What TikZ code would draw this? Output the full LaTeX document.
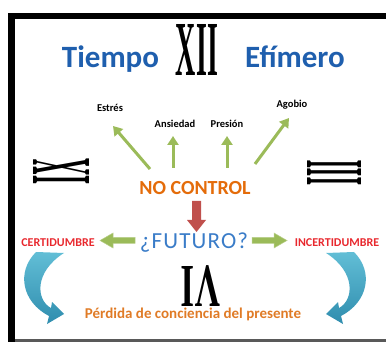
\documentclass[tikz,border=0pt]{standalone}
\usepackage{fontspec}
\setmainfont{Carlito}
\newfontfamily\numfont{Liberation Serif}
\newfontfamily\futfont[LetterSpace=5]{Carlito}
\usetikzlibrary{arrows.meta}
\definecolor{tblue}{HTML}{1F5FAE}
\definecolor{fblue}{HTML}{3A7CC8}
\definecolor{lgreen}{HTML}{9BBB59}
\definecolor{ncorange}{HTML}{E46C0A}
\definecolor{porange}{HTML}{E07B26}
\definecolor{darrow}{HTML}{C0504D}
\definecolor{cred}{HTML}{E8282E}
\definecolor{cyanA}{HTML}{62BED6}
\definecolor{cyanB}{HTML}{2F8DAE}
\begin{document}
\begin{tikzpicture}[x=1pt,y=-1pt,
  lbl/.style={inner sep=0pt, anchor=base},
  title/.style={lbl, text=tblue, font=\fontsize{31}{31}\selectfont\bfseries},
  small/.style={lbl, font=\fontsize{10.5}{10.5}\selectfont\bfseries},
  cert/.style={lbl, text=cred, font=\fontsize{12}{12}\selectfont\bfseries},
  numeral/.style={inner sep=0pt, font=\numfont\bfseries},
  garrow/.style={draw=lgreen, line width=3pt, -{Triangle[width=11pt,length=9pt]}},
  blockg/.style={fill=lgreen, draw=lgreen!70!white, line width=0.5pt},
]
\useasboundingbox (0,0) rectangle (386,342);
% frame
\fill[black] (8,13) rectangle (15,342);
\fill[black] (8,13) rectangle (386,19);
\fill[black!65] (15,339) rectangle (386,342);

% title
\node[title] (tiempo) at (110.5,68) {Tiempo};
\node[title] (efimero) at (295,68) {Efímero};
\node[numeral] (xii) at (197,49.5) {\resizebox{42pt}{51pt}{XII}};
\node[numeral, rotate=90] (ix) at (61,172) {\resizebox{26pt}{56pt}{IX}};
\node[numeral, rotate=90] (iii) at (334,172.5) {\resizebox{25pt}{54pt}{III}};
\node[numeral, rotate=180] (vi) at (200.5,286) {\resizebox{39pt}{40pt}{VI}};

% small labels
\node[small] (estres) at (110,112) {Estrés};
\node[small] (ansiedad) at (175,128) {Ansiedad};
\node[small] (presion) at (227,128) {Presión};
\node[small] (agobio) at (292,108) {Agobio};

% NO CONTROL
\node[lbl, text=ncorange, font=\fontsize{20}{20}\selectfont\bfseries] (nocontrol) at (195,195) {NO CONTROL};

% green arrows
\coordinate (s1) at (150,169); \coordinate (e1) at (113,126);
\coordinate (s2) at (173,168); \coordinate (e2) at (173,136);
\coordinate (s3) at (227,168); \coordinate (e3) at (227,136);
\coordinate (s4) at (255,164); \coordinate (e4) at (289,118);
\draw[garrow] (s1) -- (e1);
\draw[garrow] (s2) -- (e2);
\draw[garrow] (s3) -- (e3);
\draw[garrow] (s4) -- (e4);

% red down arrow
\fill[darrow] (192,201) -- (201,201) -- (201,220) -- (206,220) -- (196.5,232) -- (187,220) -- (192,220) -- cycle;

% FUTURO
\node[lbl, text=fblue, font=\fontsize{23}{23}\futfont] (futuro) at (194,249) {¿FUTURO?};
\node[cert] (certi) at (58,247) {CERTIDUMBRE};
\node[cert] (incerti) at (337,247) {INCERTIDUMBRE};

% green block arrows
\filldraw[blockg] (100,240.5) -- (113,233) -- (113,237.5) -- (135,237.5) -- (135,243.5) -- (113,243.5) -- (113,248) -- cycle;
\filldraw[blockg] (287,240.5) -- (274,233) -- (274,237.5) -- (252,237.5) -- (252,243.5) -- (274,243.5) -- (274,248) -- cycle;

% curved arrows
\shade[top color=cyanA, bottom color=cyanB]
  (36,252) .. controls (16,272) and (22,302) .. (49,316) -- (47,324) -- (64,314) -- (52,302) -- (51,308)
  .. controls (36,300) and (34,272) .. (64,253) -- cycle;
\begin{scope}[xshift=390pt, xscale=-1]
\shade[top color=cyanA, bottom color=cyanB]
  (36,252) .. controls (16,272) and (22,302) .. (49,316) -- (47,324) -- (64,314) -- (52,302) -- (51,308)
  .. controls (36,300) and (34,272) .. (64,253) -- cycle;
\end{scope}

% bottom text
\node[lbl, text=porange, font=\fontsize{15}{15}\selectfont\bfseries] (perdida) at (193,318) {Pérdida de conciencia del presente};
\end{tikzpicture}
\end{document}
